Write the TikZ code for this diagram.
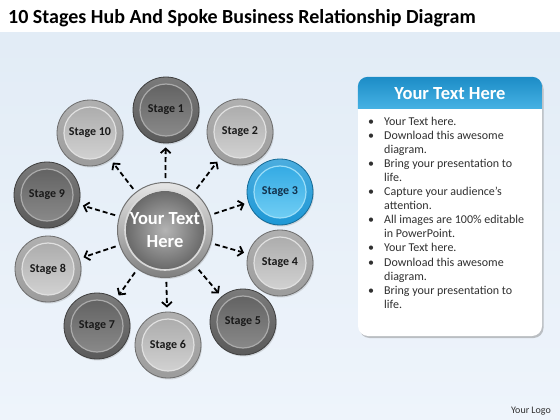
\documentclass[tikz,border=0pt]{standalone}
\usepackage{fontspec}
\setmainfont{Carlito}
\usetikzlibrary{arrows.meta,shadows}
\definecolor{bgTop}{HTML}{E2ECF6}
\definecolor{bgBot}{HTML}{EEF4FB}
\definecolor{dkO}{HTML}{5A5A5A}
\definecolor{dkT}{HTML}{5E5E5E}
\definecolor{dkB}{HTML}{8E8E8E}
\definecolor{ltO}{HTML}{9C9C9C}
\definecolor{ltT}{HTML}{A8A8A8}
\definecolor{ltB}{HTML}{D6D6D6}
\definecolor{blO}{HTML}{1E98D6}
\definecolor{blT}{HTML}{2CA6E2}
\definecolor{blB}{HTML}{78D2F6}
\definecolor{blText}{HTML}{12304A}
\definecolor{hubIn}{HTML}{B4B4B4}
\definecolor{hubOut}{HTML}{5A5A5A}
\definecolor{hdrTop}{HTML}{1C8CC6}
\definecolor{hdrBot}{HTML}{46B2E4}
\definecolor{txt}{HTML}{303030}
\tikzset{
  stagebase/.style n args={4}{circle, minimum size=66pt, inner sep=0pt,
    draw=#1!70!black, line width=0.8pt, top color=#1!80!white, bottom color=#1,
    drop shadow={shadow xshift=1pt, shadow yshift=-1.5pt, opacity=0.25},
    font=\bfseries\fontsize{12}{14}\selectfont, text=#4,
    path picture={\draw[line width=1.2pt, draw=#3!75!white, top color=#2, bottom color=#3]
      (path picture bounding box.center) circle[radius=26pt];}},
  darkstage/.style={stagebase={dkO}{dkT}{dkB}{black!90}},
  lightstage/.style={stagebase={ltO}{ltT}{ltB}{black!90}},
  bluestage/.style={stagebase={blO}{blT}{blB}{blText}},
  hubstyle/.style={circle, minimum size=95pt, inner sep=0pt, draw=black!55,
    line width=1pt, top color=black!10, bottom color=black!50,
    drop shadow={shadow xshift=1pt, shadow yshift=-1.5pt, opacity=0.25},
    font=\bfseries\fontsize{18.5}{23}\selectfont, text=white, align=center,
    path picture={
      \shade[inner color=hubIn, outer color=hubOut]
        (path picture bounding box.center) circle[radius=39pt];
      \draw[white!85!black, line width=1.6pt]
        (path picture bounding box.center) circle[radius=40pt];}},
  spoke/.style={line width=1.8pt, dash pattern=on 5pt off 3pt,
    -{Straight Barb[length=4.5pt,width=10pt]}, shorten <=4pt, shorten >=4pt},
  panelstyle/.style={rectangle, rounded corners=10pt, fill=white, draw=none,
    minimum width=184pt, minimum height=259pt,
    drop shadow={shadow xshift=1.5pt, shadow yshift=-2pt, opacity=0.45}},
  bodytext/.style={font=\fontsize{12}{14.1}\selectfont, text=txt, inner sep=0pt}
}
\begin{document}
\begin{tikzpicture}[x=1pt,y=-1pt]
\useasboundingbox (0,0) rectangle (560,420);
\fill[white] (0,0) rectangle (560,420);
\shade[top color=bgTop, bottom color=bgBot] (0,33) rectangle (560,420);

\node[anchor=base west, inner sep=0pt, font=\bfseries\fontsize{20}{23}\selectfont, text=black] (title) at (8,23.5)
  {10 Stages Hub And Spoke Business Relationship Diagram};

\node[hubstyle] (hub) at (165,230) {Your Text\\Here};

\node[darkstage]  (s1)  at (166,110) {Stage 1};
\node[lightstage] (s2)  at (240,132) {Stage 2};
\node[bluestage]  (s3)  at (280,192) {Stage 3};
\node[lightstage] (s4)  at (280,263) {Stage 4};
\node[darkstage]  (s5)  at (243,322) {Stage 5};
\node[lightstage] (s6)  at (168,345) {Stage 6};
\node[darkstage]  (s7)  at (97,326)  {Stage 7};
\node[lightstage] (s8)  at (48,269)  {Stage 8};
\node[darkstage]  (s9)  at (47,195)  {Stage 9};
\node[lightstage] (s10) at (90,133)  {Stage 10};

\foreach \s in {s1,s2,s3,s4,s5,s6,s7,s8,s9,s10}
  \draw[spoke] (hub) -- (\s);

\node[panelstyle] (panel) at (450,206.5) {};
\begin{scope}
  \clip[rounded corners=10pt] (panel.south west) rectangle (panel.north east);
  \shade[top color=hdrTop, bottom color=hdrBot] (panel.north west) rectangle ([yshift=-32pt]panel.north east);
\end{scope}
\node[font=\bfseries\fontsize{18.5}{22}\selectfont, text=white, inner sep=0pt] (hdr) at (450,94) {Your Text Here};

\node[bodytext, anchor=north west] (list) at (368,115) {%
\begin{tabular}{@{}p{16pt}@{}l@{}}
\textbullet & Your Text here.\\
\textbullet & Download this awesome\\
 & diagram.\\
\textbullet & Bring your presentation to\\
 & life.\\
\textbullet & Capture your audience’s\\
 & attention.\\
\textbullet & All images are 100\% editable\\
 & in PowerPoint.\\
\textbullet & Your Text here.\\
\textbullet & Download this awesome\\
 & diagram.\\
\textbullet & Bring your presentation to\\
 & life.
\end{tabular}};

\node[font=\fontsize{10}{12}\selectfont, text=txt, inner sep=0pt] (logo) at (531,411) {Your Logo};
\end{tikzpicture}
\end{document}
